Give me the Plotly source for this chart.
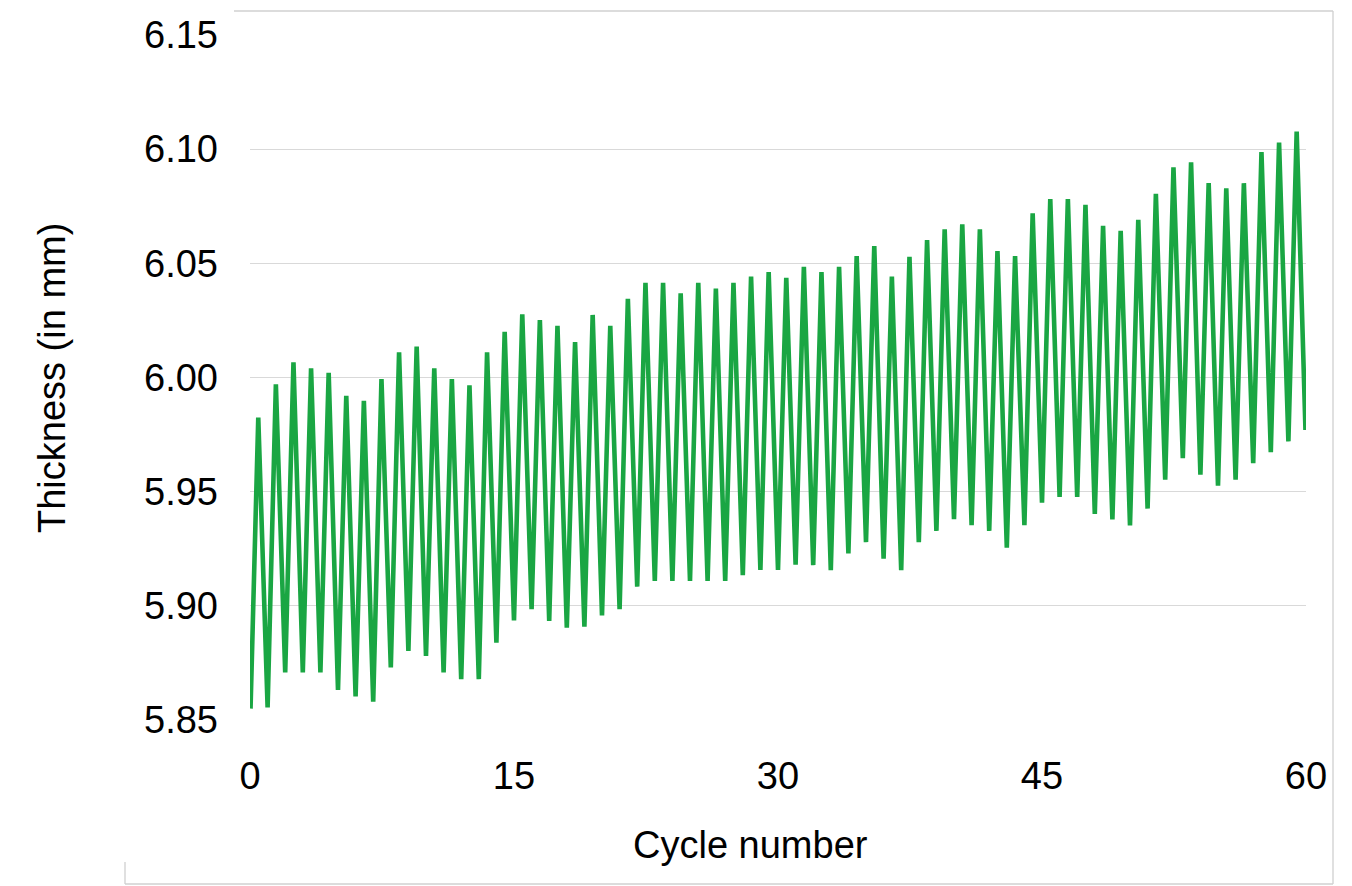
import plotly.graph_objects as go

# ---- data ----
start_value = 5.855          # first point of the record (cycle 0)
end_value = 5.977            # last point of the record (cycle 60)
peak_values = [
    5.9825, 5.9970, 6.0066, 6.0040, 6.0020, 5.9920, 5.9898, 5.9993, 6.0110, 6.0136,
    6.0040, 5.9993, 5.9966, 6.0110, 6.0200, 6.0277, 6.0252, 6.0226, 6.0155, 6.0274,
    6.0226, 6.0345, 6.0415, 6.0415, 6.0369, 6.0415, 6.0389, 6.0415, 6.0442, 6.0462,
    6.0437, 6.0485, 6.0462, 6.0485, 6.0532, 6.0576, 6.0442, 6.0529, 6.0602, 6.0649,
    6.0671, 6.0649, 6.0554, 6.0532, 6.0719, 6.0781, 6.0781, 6.0756, 6.0664, 6.0642,
    6.0691, 6.0804, 6.0921, 6.0942, 6.0851, 6.0829, 6.0851, 6.0987, 6.1029, 6.1077,
]
trough_values = [
    5.8555, 5.8708, 5.8708, 5.8708, 5.8632, 5.8603, 5.8580, 5.8730, 5.8803, 5.8781,
    5.8708, 5.8679, 5.8679, 5.8839, 5.8936, 5.8985, 5.8934, 5.8904, 5.8909, 5.8958,
    5.8985, 5.9084, 5.9109, 5.9109, 5.9109, 5.9109, 5.9109, 5.9134, 5.9157, 5.9157,
    5.9180, 5.9178, 5.9156, 5.9229, 5.9279, 5.9206, 5.9156, 5.9279, 5.9328, 5.9379,
    5.9353, 5.9328, 5.9255, 5.9353, 5.9452, 5.9477, 5.9477, 5.9403, 5.9378, 5.9352,
    5.9426, 5.9552, 5.9647, 5.9574, 5.9526, 5.9552, 5.9625, 5.9673, 5.9720,
]
x_ticks = [0, 15, 30, 45, 60]
y_ticks = [5.85, 5.90, 5.95, 6.00, 6.05, 6.10, 6.15]
x_title = "Cycle number"
y_title = "Thickness (in mm)"

# cycle phase positions (peak mid-cycle, trough at cycle boundary)
PEAK_PHASE = 0.47
TROUGH_PHASE = 1.0
START_X = 0.03
END_X = 59.97

xs = [START_X]
ys = [start_value]
for k, p in enumerate(peak_values):
    xs.append(k + PEAK_PHASE)
    ys.append(p)
    if k < len(trough_values):
        xs.append(k + TROUGH_PHASE)
        ys.append(trough_values[k])
xs.append(END_X)
ys.append(end_value)

GREEN = "#1aa643"
GRID = "#d9d9d9"
FRAME = "#d0d0d0"
FONT = "Liberation Sans, Arial, sans-serif"
FS = 38

fig = go.Figure(
    go.Scatter(x=xs, y=ys, mode="lines",
               line=dict(color=GREEN, width=4.6), showlegend=False,
               hoverinfo="x+y")
)

# page has an 8px body margin: figure coordinates = page coordinates - 8
OFF = 8
W, H = 1352 - OFF, 886 - OFF
PL, PR, PT, PB = 250, 1306, 35, 720          # plot area in page pixels
L, R, T, B = PL - OFF, W - (PR - OFF), PT - OFF, H - (PB - OFF)
pw, ph = PR - PL, PB - PT


def px(x):
    return (x - PL) / pw


def py(y):
    return (PB - y) / ph


frame_lines = [
    (234, 11, 1333, 11),
    (1333, 11, 1333, 884),
    (125, 884, 1333, 884),
    (125, 862, 125, 884),
]
shapes = [
    dict(type="line", xref="paper", yref="paper",
         x0=px(a), y0=py(b), x1=px(c), y1=py(d),
         line=dict(color=FRAME, width=1.3))
    for a, b, c, d in frame_lines
]

fig.update_layout(
    width=W, height=H,
    margin=dict(l=L, r=R, t=T, b=B, autoexpand=False),
    paper_bgcolor="white", plot_bgcolor="white",
    font=dict(family=FONT, size=FS, color="#000000"),
    shapes=shapes,
    annotations=[
        dict(text=x_title, xref="paper", yref="paper", x=px(750), y=py(845),
             xanchor="center", yanchor="middle", showarrow=False,
             font=dict(family=FONT, size=FS, color="#000000")),
        dict(text=y_title, xref="paper", yref="paper", x=px(52), y=py(378),
             xanchor="center", yanchor="middle", showarrow=False, textangle=-90,
             font=dict(family=FONT, size=FS, color="#000000")),
    ],
    xaxis=dict(range=[0, 60], tickvals=x_ticks, ticktext=[str(v) for v in x_ticks],
               showgrid=False, zeroline=False, showline=False, ticks="",
               ticklabelstandoff=30, automargin=False,
               tickfont=dict(family=FONT, size=FS, color="#000000")),
    yaxis=dict(range=[5.85, 6.15], tickvals=y_ticks,
               ticktext=[f"{v:.2f}" for v in y_ticks],
               showgrid=True, gridcolor=GRID, gridwidth=1.3,
               zeroline=False, showline=False, ticks="",
               ticklabelstandoff=31, automargin=False,
               tickfont=dict(family=FONT, size=FS, color="#000000")),
)

fig.write_html("out.html")
